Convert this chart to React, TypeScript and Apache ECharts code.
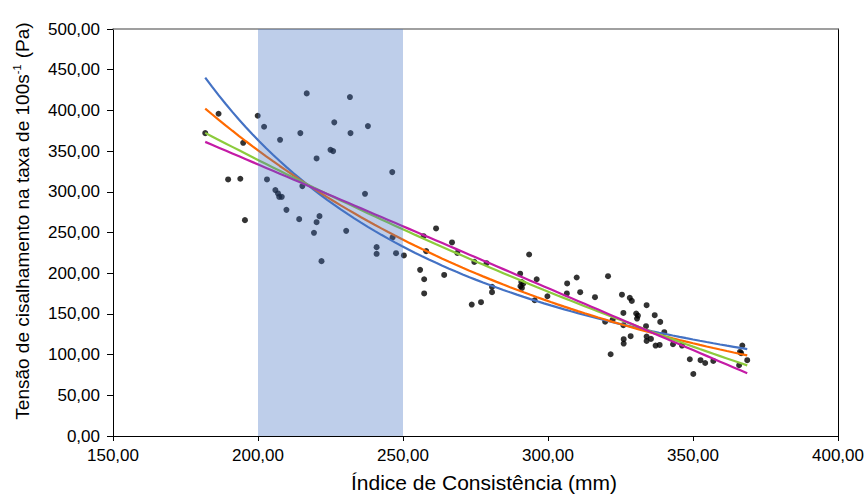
import React, { useEffect, useRef } from "react";
import * as echarts from "echarts";

// Consistency index (mm) of each sample
const consistencyIndex = [
  181.8, 186.4, 189.7, 193.9, 194.9, 195.5, 199.9, 202.1, 203.1, 206.0,
  206.9, 207.3, 208.2, 207.6, 209.8, 214.2, 214.6, 215.3, 216.8, 219.3,
  220.2, 220.2, 221.2, 221.9, 225.0, 225.9, 226.3, 230.4, 231.7, 231.9,
  236.9, 237.9, 240.9, 240.9, 246.3, 246.4, 247.6, 250.3, 255.9, 257.1,
  257.3, 257.3, 258.0, 261.4, 264.2, 266.9, 268.7, 273.7, 274.6, 276.9,
  278.8, 280.7, 280.7, 290.4, 290.8, 291.5, 291.0, 290.5, 293.5, 295.4,
  296.1, 299.8, 306.6, 306.5, 309.9, 311.1, 316.2, 319.7, 320.7, 321.6,
  322.3, 325.5, 326.0, 326.0, 326.1, 326.1, 328.2, 328.9, 328.5, 330.4,
  331.0, 330.7, 333.8, 334.0, 334.0, 334.0, 335.5, 336.8, 337.1, 338.5,
  338.7, 340.1, 343.1, 346.2, 348.9, 350.1, 352.6, 354.2, 357.0, 365.9,
  366.2, 366.6, 367.0, 368.7,
];

// Shear stress at 100 s^-1 (Pa) of each sample
const shearStress = [
  372.1, 395.9, 315.2, 316.0, 360.2, 265.2, 393.4, 379.9, 315.2, 302.1,
  298.0, 293.8, 293.8, 363.9, 277.8, 266.4, 372.1, 307.0, 420.9, 249.6,
  262.7, 341.0, 270.1, 214.8, 351.6, 350.0, 385.3, 252.0, 416.4, 372.1,
  297.5, 380.7, 232.0, 223.8, 324.2, 243.9, 224.6, 221.8, 204.1, 245.5,
  192.6, 175.1, 227.1, 255.0, 197.9, 237.8, 225.0, 161.5, 213.9, 164.4,
  212.3, 183.2, 176.7, 199.4, 189.3, 187.4, 181.9, 184.0, 223.0, 166.8,
  192.6, 171.7, 187.4, 175.1, 194.7, 176.7, 170.5, 140.4, 196.3, 100.4,
  143.1, 173.6, 151.2, 136.1, 118.9, 113.6, 169.7, 166.0, 122.6, 150.5,
  147.8, 144.3, 134.9, 160.7, 122.2, 116.7, 119.3, 148.4, 111.1, 111.9,
  140.2, 127.5, 112.7, 111.1, 94.3, 76.2, 93.1, 89.7, 92.2, 86.9,
  103.3, 101.7, 111.1, 93.1,
];

// Highlighted consistency range (mm)
const highlightRange = [200, 250];

// Trend-line equations
const linearCoef = [637.8, -1.5207]; // y = a + b·x
const polyCoef = [768.49, -2.4997, 0.001765]; // y = a + b·x + c·x²
const expCoef = [1572.7, -0.0075]; // y = a·e^(b·x)
const powerCoef = [1.478e7, -2.003]; // y = a·x^b
const trendSpan = [181.8, 368.7];

const xTicks = [150, 200, 250, 300, 350, 400];
const yTicks = [0, 50, 100, 150, 200, 250, 300, 350, 400, 450, 500];

const FONT = "'Liberation Sans', Arial, sans-serif";
const fmt = (v: number) => v.toFixed(2).replace(".", ",");

function trendPoints(fn: (x: number) => number): number[][] {
  const pts: number[][] = [];
  const steps = 80;
  for (let i = 0; i <= steps; i++) {
    const x = trendSpan[0] + ((trendSpan[1] - trendSpan[0]) * i) / steps;
    pts.push([x, fn(x)]);
  }
  return pts;
}

export default function App() {
  const ref = useRef<HTMLDivElement>(null);

  useEffect(() => {
    document.body.style.margin = "0";
    if (!ref.current) return;
    const chart = echarts.init(ref.current, undefined, { renderer: "svg" });

    const points = consistencyIndex.map((x, i) => [x, shearStress[i]]);
    const trendStyle = (color: string) => ({
      type: "line" as const,
      showSymbol: false,
      symbol: "none",
      smooth: false,
      lineStyle: { color, width: 2.2 },
      z: 4,
      silent: true,
    });

    chart.setOption({
      animation: false,
      backgroundColor: "#ffffff",
      textStyle: { fontFamily: FONT },
      grid: { left: 113, right: 28, top: 29, bottom: 62, containLabel: false },
      xAxis: [
        {
          type: "value",
          min: xTicks[0],
          max: xTicks[xTicks.length - 1],
          interval: 50,
          axisLine: { show: true, lineStyle: { color: "#000000", width: 1 } },
          axisTick: { show: true, inside: false, length: 5, lineStyle: { color: "#000000" } },
          axisLabel: {
            formatter: fmt,
            fontSize: 17,
            color: "#000000",
            fontFamily: FONT,
            margin: 11,
          },
          splitLine: { show: false },
        },
        {
          type: "value",
          position: "top",
          min: xTicks[0],
          max: xTicks[xTicks.length - 1],
          axisLine: { show: true, onZero: false, lineStyle: { color: "#808080", width: 1.5 } },
          axisTick: { show: false },
          axisLabel: { show: false },
          splitLine: { show: false },
        },
      ],
      yAxis: [
        {
          type: "value",
          min: yTicks[0],
          max: yTicks[yTicks.length - 1],
          interval: 50,
          axisLine: { show: true, lineStyle: { color: "#000000", width: 1 } },
          axisTick: { show: true, inside: false, length: 6, lineStyle: { color: "#000000" } },
          axisLabel: {
            formatter: fmt,
            fontSize: 17,
            color: "#000000",
            fontFamily: FONT,
            margin: 13,
          },
          splitLine: { show: false },
        },
        {
          type: "value",
          position: "right",
          min: yTicks[0],
          max: yTicks[yTicks.length - 1],
          axisLine: { show: true, onZero: false, lineStyle: { color: "#000000", width: 1 } },
          axisTick: { show: false },
          axisLabel: { show: false },
          splitLine: { show: false },
        },
      ],
      series: [
        {
          type: "scatter",
          data: points,
          symbol: "circle",
          symbolSize: 6,
          itemStyle: { color: "#000000" },
          z: 3,
        },
        {
          ...trendStyle("#4472C4"),
          data: trendPoints((x) => powerCoef[0] * Math.pow(x, powerCoef[1])),
        },
        {
          ...trendStyle("#FF6A00"),
          data: trendPoints((x) => expCoef[0] * Math.exp(expCoef[1] * x)),
        },
        {
          ...trendStyle("#8CCB3C"),
          data: trendPoints((x) => polyCoef[0] + polyCoef[1] * x + polyCoef[2] * x * x),
        },
        {
          ...trendStyle("#C41BA6"),
          data: trendPoints((x) => linearCoef[0] + linearCoef[1] * x),
        },
        {
          // translucent band laid over the points and curves
          type: "custom",
          z: 10,
          silent: true,
          data: [[highlightRange[0], highlightRange[1]]],
          encode: { x: [0, 1] },
          renderItem: (_params: any, api: any) => {
            const topLeft = api.coord([api.value(0), yTicks[yTicks.length - 1]]);
            const bottomRight = api.coord([api.value(1), yTicks[0]]);
            return {
              type: "rect",
              shape: {
                x: topLeft[0],
                y: topLeft[1],
                width: bottomRight[0] - topLeft[0],
                height: bottomRight[1] - topLeft[1],
              },
              style: { fill: "rgba(68,114,196,0.35)" },
            };
          },
        },
      ],
      graphic: [
        {
          type: "text",
          x: 484,
          y: 482,
          style: {
            text: "Índice de Consistência (mm)",
            fontSize: 21,
            fontFamily: FONT,
            fill: "#000000",
            align: "center",
            verticalAlign: "middle",
          },
        },
        {
          type: "text",
          x: 22,
          y: 221,
          rotation: Math.PI / 2,
          style: {
            text: "{n|Tensão de cisalhamento na taxa de 100s}{sup|-1}{n| (Pa)}",
            fontFamily: FONT,
            fill: "#000000",
            align: "center",
            verticalAlign: "middle",
            rich: {
              n: { fontSize: 19, lineHeight: 22, fontFamily: FONT, fill: "#000000" },
              sup: {
                fontSize: 11,
                lineHeight: 22,
                fontFamily: FONT,
                fill: "#000000",
                verticalAlign: "top",
                padding: [0, 1, 10, 0],
              },
            },
          },
        },
      ],
    });

    return () => chart.dispose();
  }, []);

  return <div ref={ref} style={{ width: 867, height: 498 }} />;
}
